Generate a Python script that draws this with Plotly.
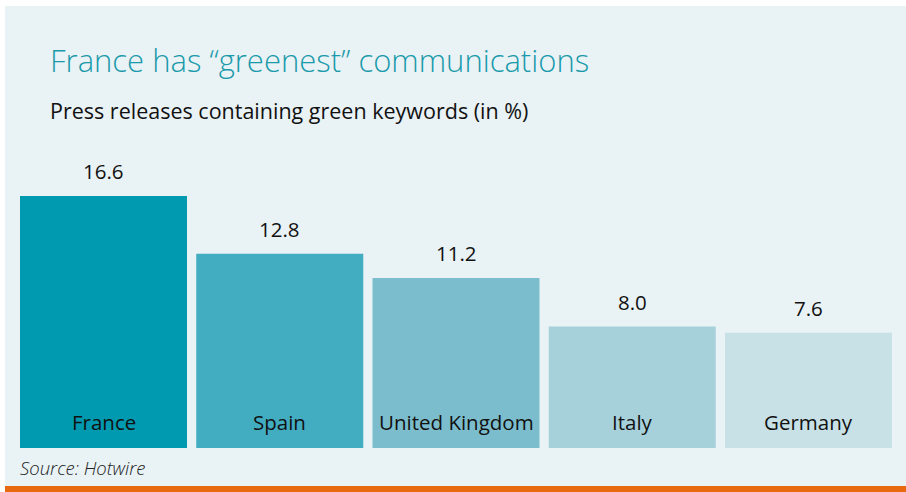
import plotly.graph_objects as go

countries = ["France", "Spain", "United Kingdom", "Italy", "Germany"]
values = [16.6, 12.8, 11.2, 8.0, 7.6]
colors = ["#009ab0", "#42acc1", "#7bbdcd", "#a6d1db", "#c8e1e7"]

title_text = "France has \u201cgreenest\u201d communications"
subtitle_text = "Press releases containing green keywords (in %)"
source_text = "Source: Hotwire"

W, H = 906, 492
L, R, T, B = 20, 14, 150, 44
PW, PH = W - L - R, H - T - B
FONT = "Open Sans"
STEP = 176.25
BARW = 167

def px(x):
    return (x - L) / PW

def py(y):
    return (H - B - y) / PH

fig = go.Figure()
fig.add_trace(go.Bar(
    x=countries, y=values,
    marker=dict(color=colors, line=dict(width=0)),
    hoverinfo="x+y",
))

annotations = []
for c, v in zip(countries, values):
    annotations.append(dict(x=c, y=v, xref="x", yref="y", text=f"{v:.1f}",
                            showarrow=False, yanchor="bottom", yshift=9,
                            font=dict(family=FONT, size=20.5, color="#111111")))
    annotations.append(dict(x=c, y=0, xref="x", yref="y", text=c,
                            showarrow=False, yanchor="bottom", yshift=10,
                            font=dict(family=FONT, size=20.5, color="#111111")))

annotations.append(dict(x=px(48), y=py(60), xref="paper", yref="paper", text=title_text,
                        showarrow=False, xanchor="left", yanchor="middle",
                        font=dict(family=FONT, size=31, color="#1a9aab", weight=300)))
annotations.append(dict(x=px(48), y=py(110), xref="paper", yref="paper", text=subtitle_text,
                        showarrow=False, xanchor="left", yanchor="middle",
                        font=dict(family=FONT, size=21.5, color="#111111")))
annotations.append(dict(x=px(18), y=py(467), xref="paper", yref="paper", text=f"<i>{source_text}</i>",
                        showarrow=False, xanchor="left", yanchor="middle",
                        font=dict(family=FONT, size=18.5, color="#222222", weight=300)))

shapes = [
    dict(type="rect", xref="paper", yref="paper", x0=px(5), x1=px(W + 5), y0=py(486), y1=py(6),
         fillcolor="#e9f2f5", line=dict(width=0), layer="below"),
    dict(type="rect", xref="paper", yref="paper", x0=px(5), x1=px(W + 5), y0=py(H + 5), y1=py(486),
         fillcolor="#e8690f", line=dict(width=0), layer="below"),
]

half = PW / STEP / 2

fig.update_layout(
    width=W, height=H,
    margin=dict(l=L, r=R, t=T, b=B),
    paper_bgcolor="white",
    plot_bgcolor="rgba(0,0,0,0)",
    bargap=1 - BARW / STEP,
    showlegend=False,
    xaxis=dict(visible=False, range=[2 - half, 2 + half]),
    yaxis=dict(visible=False, range=[0, PH / (252 / 16.6)]),
    annotations=annotations,
    shapes=shapes,
)

fig.write_html("out.html")
